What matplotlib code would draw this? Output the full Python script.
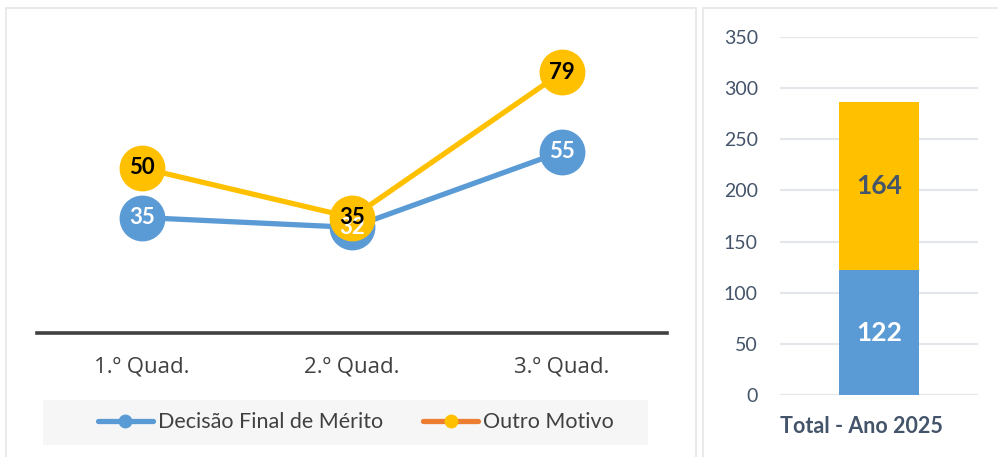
import matplotlib
matplotlib.use("Agg")
import matplotlib.pyplot as plt
import matplotlib.transforms as mtransforms
from matplotlib.lines import Line2D
from matplotlib.patches import Rectangle

plt.rcParams['font.family'] = ['Lato', 'DejaVu Sans']

categories = ["1.º Quad.", "2.º Quad.", "3.º Quad."]
decisao = [35, 32, 55]
outro = [50, 35, 79]
total_label = "Total - Ano 2025"
total_decisao = 122
total_outro = 164
series_names = ["Decisão Final de Mérito", "Outro Motivo"]

BLUE = "#5B9BD5"
YELLOW = "#FFC000"
ORANGE = "#ED7D31"
DARK = "#44546A"

fig = plt.figure(figsize=(9.98, 4.57), dpi=100)
W, H = 998, 457

def box(x0, y0, x1, y1, **kw):
    fig.patches.append(Rectangle((x0 / W, 1 - y1 / H), (x1 - x0) / W, (y1 - y0) / H,
                                 transform=fig.transFigure, **kw))

# panel borders
box(6, 8, 696, 470, facecolor="white", edgecolor="#E6E6E6", linewidth=1.2, zorder=0)
box(703, 8, 1005, 470, facecolor="white", edgecolor="#E6E6E6", linewidth=1.2, zorder=0)
# legend background
box(43, 400, 648, 445, facecolor="#F6F6F6", edgecolor="none", zorder=0.5)

# ---- left line chart ----
ax = fig.add_axes([37 / W, 1 - 333 / H, 630 / W, 313.5 / H])
ax.set_zorder(3)
ax.set_facecolor("none")
x = list(range(len(categories)))
ax.plot(x, decisao, color=BLUE, lw=3.8, marker="o", ms=32, mfc=BLUE, mec=BLUE,
        solid_capstyle="round", zorder=2)
ax.plot(x, outro, color=YELLOW, lw=3.8, marker="o", ms=32, mfc=YELLOW, mec=YELLOW,
        solid_capstyle="round", zorder=3)
for xi, v in zip(x, decisao):
    ax.text(xi, v, str(v), ha="center", va="center", color="white",
            fontsize=16, fontweight="bold", zorder=4)
for xi, v in zip(x, outro):
    ax.text(xi, v, str(v), ha="center", va="center", color="black",
            fontsize=16, fontweight="bold", zorder=5)
ax.set_xlim(-0.5, 2.5)
ax.set_ylim(0, 95)
ax.set_xticks(x)
ax.set_xticklabels(categories, fontsize=16, color="#404040", family=["Open Sans", "DejaVu Sans"])
ax.tick_params(axis="x", length=0, pad=17)
ax.set_yticks([])
for s in ["top", "right", "left"]:
    ax.spines[s].set_visible(False)
ax.spines["bottom"].set_color("#404040")
ax.spines["bottom"].set_linewidth(2.6)
ax.spines["bottom"].set_zorder(1)

handles = [
    Line2D([], [], color=BLUE, lw=3.8, marker="o", ms=9, mfc=BLUE, mec=BLUE, solid_capstyle="round"),
    Line2D([], [], color=ORANGE, lw=3.8, marker="o", ms=9, mfc=YELLOW, mec=YELLOW, solid_capstyle="round"),
]
leg = fig.legend(handles, series_names, loc="center", bbox_to_anchor=(356 / W, 1 - 422.5 / H),
                 ncol=2, frameon=False, fontsize=15.5, handlelength=2.55, handletextpad=0.25,
                 columnspacing=1.85, labelcolor="#404040")
leg.set_zorder(4)

# ---- right stacked bar ----
ax2 = fig.add_axes([780 / W, 1 - 395 / H, 198 / W, 358 / H])
ax2.set_zorder(3)
ax2.set_facecolor("none")
ax2.bar([0], [total_decisao], width=0.4, color=BLUE, zorder=2)
ax2.bar([0], [total_outro], width=0.4, bottom=[total_decisao], color=YELLOW, zorder=2)
ax2.text(0, total_decisao / 2, str(total_decisao), ha="center", va="center",
         color="white", fontsize=19, fontweight="bold", zorder=3)
ax2.text(0, total_decisao + total_outro / 2, str(total_outro), ha="center", va="center",
         color=DARK, fontsize=19, fontweight="bold", zorder=3)
ax2.set_xlim(-0.5, 0.5)
ax2.set_ylim(0, 350)
ax2.set_yticks(range(0, 351, 50))
ax2.yaxis.grid(True, color="#E3E6EA", lw=1.5, zorder=0)
ax2.set_axisbelow(True)
ax2.tick_params(axis="y", length=0, pad=16, labelsize=14, labelcolor=DARK)
ax2.set_xticks([0])
ax2.set_xticklabels([total_label], fontsize=15.5, fontweight="bold", color=DARK)
ax2.tick_params(axis="x", length=0, pad=15)
offset = mtransforms.ScaledTranslation(-18 / 100, 0, fig.dpi_scale_trans)
for lab in ax2.get_xticklabels():
    lab.set_transform(lab.get_transform() + offset)
for s in ax2.spines.values():
    s.set_visible(False)

fig.savefig("out.png", dpi=100)
